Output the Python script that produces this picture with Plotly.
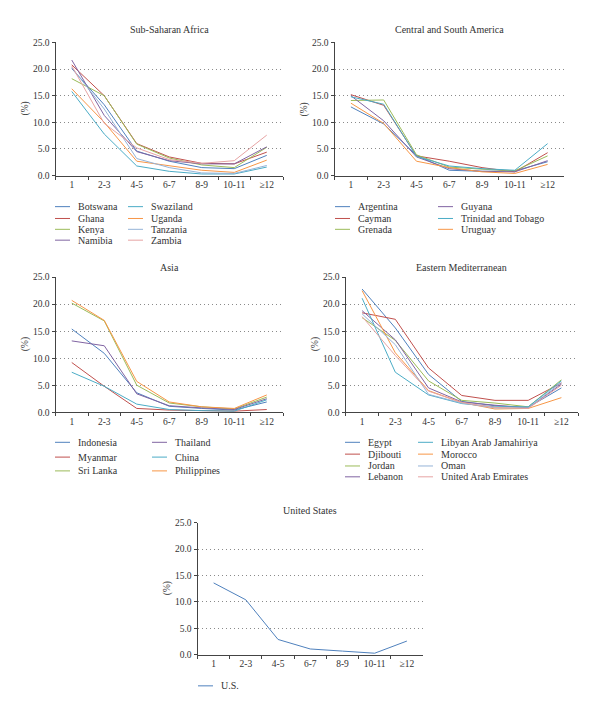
import plotly.graph_objects as go

W, H = 600, 716

categories = ["1", "2-3", "4-5", "6-7", "8-9", "10-11", "≥12"]
yticks = [0, 5, 10, 15, 20, 25]

# Sub-Saharan Africa
ssa_names = ["Botswana", "Ghana", "Kenya", "Namibia", "Swaziland", "Uganda", "Tanzania", "Zambia"]
ssa_botswana = [20.1, 13.3, 4.6, 2.7, 1.5, 1.3, 3.8]
ssa_ghana = [20.8, 15.0, 6.0, 3.5, 2.3, 2.2, 4.4]
ssa_kenya = [18.2, 15.0, 5.9, 3.3, 2.0, 1.5, 5.3]
ssa_namibia = [21.7, 11.3, 4.5, 2.8, 2.2, 2.2, 5.4]
ssa_swaziland = [15.8, 7.8, 1.8, 0.8, 0.3, 0.3, 1.6]
ssa_uganda = [16.3, 10.0, 2.7, 1.8, 1.0, 0.6, 2.9]
ssa_tanzania = [20.3, 12.5, 3.2, 1.5, 0.5, 0.4, 1.9]
ssa_zambia = [20.6, 9.8, 5.2, 3.0, 2.3, 2.8, 7.6]

# Central and South America
csa_names = ["Argentina", "Cayman", "Grenada", "Guyana", "Trinidad and Tobago", "Uruguay"]
csa_argentina = [12.9, 9.7, 3.8, 1.0, 0.8, 0.9, 2.6]
csa_cayman = [15.2, 13.2, 3.7, 2.7, 1.5, 0.7, 4.3]
csa_grenada = [14.1, 14.2, 3.9, 1.6, 1.2, 0.9, 3.7]
csa_guyana = [15.0, 10.3, 3.5, 1.3, 0.8, 0.7, 2.8]
csa_trinidad = [14.8, 13.4, 3.6, 1.8, 1.3, 1.0, 6.0]
csa_uruguay = [13.6, 9.8, 2.7, 1.5, 0.7, 0.4, 2.1]

# Asia
asia_names = ["Indonesia", "Myanmar", "Sri Lanka", "Thailand", "China", "Philippines"]
asia_indonesia = [15.4, 10.9, 3.6, 1.1, 0.7, 0.4, 1.9]
asia_myanmar = [9.2, 4.8, 0.7, 0.4, 0.3, 0.2, 0.5]
asia_srilanka = [20.2, 16.9, 5.0, 1.7, 1.0, 0.6, 2.8]
asia_thailand = [13.2, 12.3, 3.4, 1.2, 0.8, 0.5, 2.5]
asia_china = [7.4, 4.8, 1.5, 0.5, 0.3, 0.2, 2.3]
asia_philippines = [20.7, 17.0, 5.7, 1.9, 1.0, 0.7, 3.2]

# Eastern Mediterranean
em_names = ["Egypt", "Djibouti", "Jordan", "Lebanon", "Libyan Arab Jamahiriya",
            "Morocco", "Oman", "United Arab Emirates"]
em_egypt = [22.8, 15.6, 7.0, 2.0, 1.2, 0.9, 4.5]
em_djibouti = [18.4, 17.2, 8.2, 3.1, 2.2, 2.2, 5.4]
em_jordan = [17.5, 13.3, 5.8, 2.2, 1.7, 1.0, 6.0]
em_lebanon = [18.8, 13.4, 4.5, 1.9, 1.3, 0.8, 5.2]
em_libya = [21.1, 7.4, 3.2, 1.6, 1.0, 1.0, 5.8]
em_morocco = [22.5, 11.0, 4.0, 1.8, 0.6, 0.7, 2.7]
em_oman = [18.2, 12.5, 3.3, 1.7, 0.8, 0.8, 5.5]
em_uae = [17.7, 10.5, 3.9, 1.8, 0.9, 0.7, 5.0]

# United States
us_names = ["U.S."]
us_values = [13.6, 10.4, 2.9, 1.1, 0.7, 0.3, 2.6]

colors = ["#4F81BD", "#C0504D", "#9BBB59", "#8064A2", "#4BACC6", "#F79646", "#95B3D7", "#E6A3A3"]
FONT = "Liberation Serif"
TXT = "#333333"

# panel boxes in pixels (x0, x1, ytop, ybottom), legend layout
panels = [
    dict(title="Sub-Saharan Africa", names=ssa_names,
         values=[ssa_botswana, ssa_ghana, ssa_kenya, ssa_namibia,
                 ssa_swaziland, ssa_uganda, ssa_tanzania, ssa_zambia],
         box=(55.5, 283, 38, 173), title_y=25, rows=4, ly0=204, ldy=11.5, cols=[55, 128]),
    dict(title="Central and South America", names=csa_names,
         values=[csa_argentina, csa_cayman, csa_grenada, csa_guyana, csa_trinidad, csa_uruguay],
         box=(334.5, 564, 38, 173), title_y=25, rows=3, ly0=204, ldy=11.5, cols=[335, 438]),
    dict(title="Asia", names=asia_names,
         values=[asia_indonesia, asia_myanmar, asia_srilanka, asia_thailand, asia_china, asia_philippines],
         box=(55.5, 283, 276, 413), title_y=266, rows=3, ly0=443, ldy=14.5, cols=[55, 152]),
    dict(title="Eastern Mediterranean", names=em_names,
         values=[em_egypt, em_djibouti, em_jordan, em_lebanon, em_libya, em_morocco, em_oman, em_uae],
         box=(345.5, 578, 276, 413), title_y=266, rows=4, ly0=443, ldy=11.8, cols=[345, 418]),
    dict(title="United States", names=us_names, values=[us_values],
         box=(197.5, 423, 525, 659), title_y=513, rows=1, ly0=690, ldy=12, cols=[198]),
]

fig = go.Figure()
layout = dict(width=W, height=H, margin=dict(l=0, r=0, t=0, b=0),
              paper_bgcolor="white", plot_bgcolor="white", showlegend=False,
              font=dict(family=FONT, size=9, color=TXT))
annotations = []
shapes = []

for i, p in enumerate(panels):
    s = "" if i == 0 else str(i + 1)
    x0, x1, yt, yb = p["box"]
    layout["xaxis" + s] = dict(
        domain=[x0 / W, x1 / W], anchor="y" + s, type="category",
        categoryorder="array", categoryarray=categories, range=[-0.5, 6.5],
        tickson="boundaries", ticks="outside", ticklen=3, tickcolor="#444",
        showline=True, linecolor="#444", linewidth=1, showgrid=False,
        tickfont=dict(family=FONT, size=9.5, color=TXT))
    layout["yaxis" + s] = dict(
        domain=[1 - yb / H, 1 - yt / H], anchor="x" + s, range=[0, 25],
        tickvals=yticks, tickformat=".1f", ticks="outside", ticklen=3, tickcolor="#444",
        showline=True, linecolor="#444", linewidth=1, zeroline=False,
        showgrid=True, gridcolor="#8a8a8a", griddash="1px,3px", gridwidth=1,
        tickfont=dict(family=FONT, size=9.5, color=TXT))
    for j, (name, vals) in enumerate(zip(p["names"], p["values"])):
        fig.add_trace(go.Scatter(x=categories, y=vals, mode="lines", name=name,
                                 line=dict(color=colors[j], width=1),
                                 xaxis="x" + s, yaxis="y" + s))
        col, row = divmod(j, p["rows"])
        lx = p["cols"][col]
        ly = round(p["ly0"] + row * p["ldy"]) + 0.5
        shapes.append(dict(type="line", xref="paper", yref="paper",
                           x0=lx / W, x1=(lx + 15) / W, y0=1 - ly / H, y1=1 - ly / H,
                           line=dict(color=colors[j], width=1)))
        annotations.append(dict(text=name, xref="paper", yref="paper", x=(lx + 21) / W,
                                y=1 - ly / H, xanchor="left", yanchor="middle", showarrow=False,
                                font=dict(family=FONT, size=10, color=TXT)))
    annotations.append(dict(text=p["title"], xref="paper", yref="paper", x=(x0 + x1) / 2 / W,
                            y=1 - p["title_y"] / H, xanchor="center", yanchor="middle",
                            showarrow=False, font=dict(family=FONT, size=10, color=TXT)))
    annotations.append(dict(text="(%)", xref="paper", yref="paper", x=(x0 - 30) / W,
                            y=1 - (yt + yb) / 2 / H, xanchor="center", yanchor="middle",
                            textangle=-90, showarrow=False,
                            font=dict(family=FONT, size=9.5, color=TXT)))

layout["annotations"] = annotations
layout["shapes"] = shapes
fig.update_layout(**layout)

# the page's default body margin would push the 600x716 figure off the window
fig.write_html("out.html", config={"displayModeBar": False},
               post_script="document.body.style.margin='0';")
